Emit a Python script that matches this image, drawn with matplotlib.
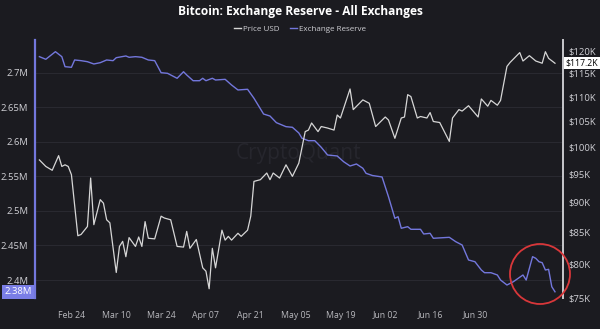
import numpy as np
import pandas as pd
import matplotlib
matplotlib.use("Agg")
import matplotlib.pyplot as plt
import matplotlib.dates as mdates
from matplotlib.lines import Line2D
from matplotlib.patches import Ellipse

plt.rcParams['font.family'] = ['Open Sans', 'DejaVu Sans']

# price USD (in $K)
price_dates = ["2025-02-14", "2025-02-16", "2025-02-18", "2025-02-20", "2025-02-21", "2025-02-22",
               "2025-02-23", "2025-02-24", "2025-02-26", "2025-02-27", "2025-03-01", "2025-03-02",
               "2025-03-03", "2025-03-05", "2025-03-06", "2025-03-07", "2025-03-08", "2025-03-10",
               "2025-03-11", "2025-03-12", "2025-03-13", "2025-03-14", "2025-03-16", "2025-03-17",
               "2025-03-18", "2025-03-19", "2025-03-20", "2025-03-22", "2025-03-24", "2025-03-25",
               "2025-03-27", "2025-03-29", "2025-03-31", "2025-04-01", "2025-04-02", "2025-04-04",
               "2025-04-06", "2025-04-07", "2025-04-08", "2025-04-09", "2025-04-10", "2025-04-12",
               "2025-04-13", "2025-04-14", "2025-04-15", "2025-04-17", "2025-04-18", "2025-04-20",
               "2025-04-21", "2025-04-22", "2025-04-24", "2025-04-26", "2025-04-27", "2025-04-28",
               "2025-04-30", "2025-05-02", "2025-05-04", "2025-05-06", "2025-05-08", "2025-05-09",
               "2025-05-10", "2025-05-12", "2025-05-13", "2025-05-15", "2025-05-17", "2025-05-18",
               "2025-05-19", "2025-05-22", "2025-05-23", "2025-05-26", "2025-05-28", "2025-05-30",
               "2025-06-02", "2025-06-03", "2025-06-05", "2025-06-07", "2025-06-08", "2025-06-09",
               "2025-06-10", "2025-06-12", "2025-06-13", "2025-06-15", "2025-06-16", "2025-06-17",
               "2025-06-19", "2025-06-22", "2025-06-23", "2025-06-25", "2025-06-26", "2025-06-28",
               "2025-07-01", "2025-07-02", "2025-07-04", "2025-07-05", "2025-07-07", "2025-07-08",
               "2025-07-10", "2025-07-11", "2025-07-14", "2025-07-15", "2025-07-17", "2025-07-19",
               "2025-07-21", "2025-07-22", "2025-07-23", "2025-07-25"]
price_k = [97.5, 96.3, 95.6, 98.3, 96.3, 96.6,
           96.3, 94.8, 84.4, 84.6, 85.9, 94.2,
           86.2, 90.4, 89.8, 87.0, 86.5, 78.7,
           82.7, 83.5, 81.1, 84.1, 82.7, 84.2,
           82.7, 86.7, 84.0, 83.9, 87.6, 87.3,
           87.0, 82.7, 82.6, 85.1, 82.4, 83.8,
           79.4, 78.9, 76.3, 82.4, 79.4, 85.3,
           83.7, 84.3, 83.7, 84.8, 84.3, 85.3,
           87.6, 93.6, 93.9, 95.1, 93.9, 95.1,
           94.2, 96.6, 94.5, 96.9, 102.9, 103.2,
           104.6, 102.9, 103.9, 103.6, 103.2, 106.2,
           105.6, 111.6, 107.3, 109.3, 108.6, 103.9,
           105.8, 105.2, 101.6, 105.6, 105.8, 110.4,
           110.0, 105.6, 105.9, 105.6, 106.7, 104.9,
           104.7, 101.0, 105.6, 107.3, 107.0, 108.1,
           105.8, 109.5, 108.0, 109.2, 108.2, 109.2,
           116.5, 117.4, 119.6, 117.7, 118.9, 117.7,
           117.2, 119.8, 118.3, 117.2]

# exchange reserve (in millions of BTC)
reserve_dates = ["2025-02-14", "2025-02-16", "2025-02-19", "2025-02-21", "2025-02-22", "2025-02-24",
                 "2025-02-25", "2025-02-27", "2025-03-01", "2025-03-03", "2025-03-05", "2025-03-07",
                 "2025-03-09", "2025-03-10", "2025-03-13", "2025-03-14", "2025-03-16", "2025-03-18",
                 "2025-03-20", "2025-03-22", "2025-03-24", "2025-03-26", "2025-03-29", "2025-03-31",
                 "2025-04-01", "2025-04-03", "2025-04-05", "2025-04-06", "2025-04-07", "2025-04-09",
                 "2025-04-10", "2025-04-13", "2025-04-15", "2025-04-17", "2025-04-20", "2025-04-22",
                 "2025-04-25", "2025-04-27", "2025-04-29", "2025-05-02", "2025-05-04", "2025-05-06",
                 "2025-05-07", "2025-05-09", "2025-05-11", "2025-05-13", "2025-05-15", "2025-05-18",
                 "2025-05-20", "2025-05-22", "2025-05-24", "2025-05-26", "2025-05-27", "2025-05-29",
                 "2025-06-01", "2025-06-03", "2025-06-05", "2025-06-06", "2025-06-07", "2025-06-09",
                 "2025-06-10", "2025-06-13", "2025-06-14", "2025-06-16", "2025-06-17", "2025-06-22",
                 "2025-06-24", "2025-06-26", "2025-06-28", "2025-06-30", "2025-07-02", "2025-07-03",
                 "2025-07-05", "2025-07-07", "2025-07-08", "2025-07-10", "2025-07-12", "2025-07-15",
                 "2025-07-16", "2025-07-18", "2025-07-19", "2025-07-20", "2025-07-21", "2025-07-22",
                 "2025-07-23", "2025-07-24", "2025-07-25"]
reserve_m = [2.7232, 2.7194, 2.7304, 2.7232, 2.7087, 2.7078,
             2.7184, 2.7174, 2.7159, 2.7126, 2.7145, 2.7184,
             2.7174, 2.7217, 2.7242, 2.7223, 2.7232, 2.7223,
             2.7184, 2.7174, 2.7000, 2.6991, 2.6919, 2.7014,
             2.6967, 2.6884, 2.6884, 2.6919, 2.6884, 2.6919,
             2.6894, 2.6904, 2.6822, 2.6750, 2.6760, 2.6630,
             2.6402, 2.6373, 2.6277, 2.6219, 2.6210, 2.6128,
             2.6051, 2.6016, 2.6016, 2.5921, 2.5809, 2.5795,
             2.5712, 2.5650, 2.5679, 2.5617, 2.5544, 2.5512,
             2.5491, 2.5206, 2.4893, 2.4916, 2.4749, 2.4772,
             2.4734, 2.4734, 2.4666, 2.4676, 2.4604, 2.4618,
             2.4555, 2.4507, 2.4290, 2.4265, 2.4145, 2.4106,
             2.4106, 2.4073, 2.4000, 2.3928, 2.3976, 2.4073,
             2.4000, 2.4338, 2.4314, 2.4265, 2.4251, 2.4145,
             2.4155, 2.3903, 2.3830]

left_ticks = [2.4, 2.45, 2.5, 2.55, 2.6, 2.65, 2.7]
right_ticks = [75, 80, 85, 90, 95, 100, 105, 110, 115, 120]
x_ticks = ["2025-02-24", "2025-03-10", "2025-03-24", "2025-04-07", "2025-04-21", "2025-05-05",
           "2025-05-19", "2025-06-02", "2025-06-16", "2025-06-30"]

bg = "#1b1b20"
price_col = "#d6d6d6"
res_col = "#7377dc"
txt_col = "#cfcfd4"

fig = plt.figure(figsize=(6, 3.29), dpi=100, facecolor=bg)
ax = fig.add_axes([35 / 600, 31 / 329, 528 / 600, 258 / 329])
ax.set_facecolor(bg)
ax2 = ax.twinx()

pd_dates = pd.to_datetime(price_dates)
rd_dates = pd.to_datetime(reserve_dates)

ax.plot(rd_dates, reserve_m, color=res_col, lw=1.0, zorder=3)
ax2.plot(pd_dates, price_k, color=price_col, lw=0.9, zorder=3)

ax.set_xlim(pd.Timestamp("2025-02-12 15:00"), pd.Timestamp("2025-07-27 12:00"))
ax.set_ylim(2.374, 2.7473)
ax2.set_yscale("log")
ax2.set_ylim(74.97, 122.5)

ax.set_yticks(left_ticks)
ax.set_yticklabels(["{:g}M".format(v) for v in left_ticks])
ax2.set_yticks(right_ticks)
ax2.set_yticklabels(["${}K".format(v) for v in right_ticks])
ax2.yaxis.set_minor_locator(matplotlib.ticker.NullLocator())
ax.set_xticks(pd.to_datetime(x_ticks))
ax.xaxis.set_major_formatter(mdates.DateFormatter("%b %d"))

ax.grid(axis="y", color="#2a2a31", lw=0.7)
ax.set_axisbelow(True)

for a in (ax, ax2):
    a.spines["top"].set_visible(False)
    a.spines["bottom"].set_visible(False)
    a.tick_params(length=0, colors=txt_col, labelsize=6.8)
ax.spines["right"].set_visible(False)
ax2.spines["left"].set_color(res_col)
ax2.spines["left"].set_linewidth(1.6)
ax2.spines["right"].set_color("#c8c8cc")
ax2.spines["right"].set_linewidth(1.4)
ax.spines["left"].set_visible(False)
ax.tick_params(axis="y", pad=5)
ax2.tick_params(axis="y", pad=4)
ax.tick_params(axis="x", pad=9, labelsize=6.3, colors="#b8b8bd")

# watermark
ax.text(0.5, 0.56, "CryptoQuant", transform=ax.transAxes, ha="center", va="center",
        fontsize=15, color="#26262d", zorder=1)

# last value badges
ax.annotate("{:.2f}M".format(reserve_m[-1]), xy=(0, reserve_m[-1]), xycoords=("axes fraction", "data"),
            xytext=(-2, 0), textcoords="offset points", ha="right", va="center", fontsize=6.8,
            color="white", bbox=dict(boxstyle="square,pad=0.25", fc="#7a7ee6", ec="none"), zorder=6)
ax2.annotate("${:.1f}K".format(price_k[-1]), xy=(1, price_k[-1]), xycoords=("axes fraction", "data"),
             xytext=(2, 0), textcoords="offset points", ha="left", va="center", fontsize=6.3,
             color="black", bbox=dict(boxstyle="square,pad=0.2", fc="white", ec="none"), zorder=6)

# red highlight circle
circ = Ellipse((540 / 600, 1 - 274 / 329), 60 / 600, 60 / 329, transform=fig.transFigure,
               fill=False, ec="#d8373a", lw=1.3, zorder=7)
fig.patches.append(circ)

fig.text(0.5, 1 - 12 / 329, "Bitcoin: Exchange Reserve - All Exchanges", ha="center", va="center",
         fontsize=8.6, fontweight="bold", color="white")
handles = [Line2D([], [], color=price_col, lw=1), Line2D([], [], color=res_col, lw=1)]
fig.legend(handles, ["Price USD", "Exchange Reserve"], loc="center", bbox_to_anchor=(0.5, 1 - 29 / 329),
           ncol=2, frameon=False, fontsize=5.8, labelcolor=txt_col, handlelength=0.9,
           handletextpad=0.3, columnspacing=1.2)

fig.savefig("out.png", dpi=100, facecolor=bg)
